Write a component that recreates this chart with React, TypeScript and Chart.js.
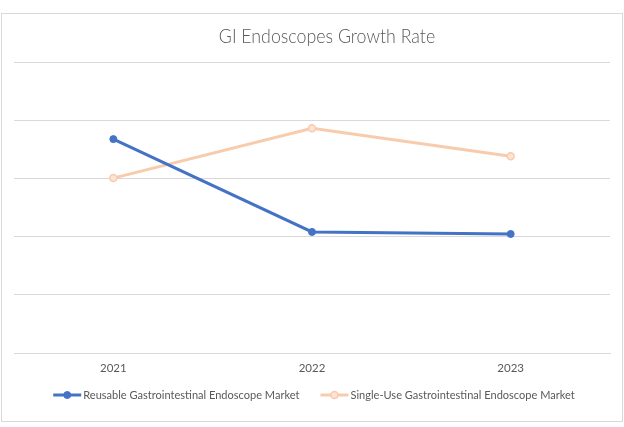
import { useEffect, useRef } from "react";
import { Chart, registerables } from "chart.js";

Chart.register(...registerables);

const chartTitle = "GI Endoscopes Growth Rate";
const categories = ["2021", "2022", "2023"];
const seriesNames = [
  "Reusable Gastrointestinal Endoscope Market",
  "Single-Use Gastrointestinal Endoscope Market",
];
const reusableValues = [7.35, 4.16, 4.09];
const singleUseValues = [6.01, 7.72, 6.76];
const yMin = 0;
const yMax = 10;
const yStep = 2;

const FONT = "Lato, 'Liberation Sans', sans-serif";
const TEXT_COLOR = "#595959";
const GRID_COLOR = "#d9d9d9";
const BLUE = "#4472C4";
const ORANGE = "#F8CBAD";
const ORANGE_FILL = "#FCE4D6";

const framePlugin = {
  id: "frame",
  beforeDraw(chart: any) {
    const ctx = chart.ctx;
    ctx.save();
    ctx.fillStyle = "#ffffff";
    ctx.fillRect(0, 0, chart.width, chart.height);
    ctx.strokeStyle = GRID_COLOR;
    ctx.lineWidth = 1;
    ctx.strokeRect(1.5, 13.5, 621, 408);
    ctx.restore();
  },
  afterDraw(chart: any) {
    const ctx = chart.ctx;
    ctx.save();
    // title
    ctx.fillStyle = TEXT_COLOR;
    ctx.font = `300 19px ${FONT}`;
    ctx.textAlign = "center";
    ctx.textBaseline = "middle";
    ctx.save();
    ctx.translate(327, 37);
    ctx.scale(0.935, 1);
    ctx.fillText(chartTitle, 0, 0);
    ctx.restore();

    // legend
    const sx = 0.92;
    ctx.font = `12px ${FONT}`;
    ctx.textAlign = "left";
    const lineLen = 28;
    const textGap = 2;
    const itemGap = 21;
    const ds = chart.data.datasets;
    const widths = ds.map((d: any) => lineLen + textGap + ctx.measureText(d.label).width * sx);
    const total = widths.reduce((a: number, b: number) => a + b, 0) + itemGap * (ds.length - 1);
    let x = 314 - total / 2;
    const y = 395;
    ds.forEach((d: any, i: number) => {
      ctx.strokeStyle = d.borderColor;
      ctx.lineWidth = 3;
      ctx.beginPath();
      ctx.moveTo(x, y);
      ctx.lineTo(x + lineLen, y);
      ctx.stroke();
      ctx.beginPath();
      ctx.arc(x + lineLen / 2, y, d.pointRadius, 0, Math.PI * 2);
      ctx.fillStyle = d.pointBackgroundColor;
      ctx.fill();
      ctx.lineWidth = d.pointBorderWidth;
      ctx.strokeStyle = d.pointBorderColor;
      ctx.stroke();
      ctx.fillStyle = TEXT_COLOR;
      ctx.save();
      ctx.translate(x + lineLen + textGap, y);
      ctx.scale(sx, 1);
      ctx.fillText(d.label, 0, 0);
      ctx.restore();
      x += widths[i] + itemGap;
    });
    ctx.restore();
  },
};

export default function App() {
  const ref = useRef<HTMLCanvasElement | null>(null);
  useEffect(() => {
    document.body.style.margin = "0";
    if (!ref.current) return;
    const chart = new Chart(ref.current, {
      type: "line",
      data: {
        labels: categories,
        datasets: [
          {
            label: seriesNames[0],
            data: reusableValues,
            borderColor: BLUE,
            backgroundColor: BLUE,
            borderWidth: 3,
            pointRadius: 3.5,
            pointBackgroundColor: BLUE,
            pointBorderColor: BLUE,
            pointBorderWidth: 1,
            tension: 0,
          },
          {
            label: seriesNames[1],
            data: singleUseValues,
            borderColor: ORANGE,
            backgroundColor: ORANGE,
            borderWidth: 3,
            pointRadius: 3.5,
            pointBackgroundColor: ORANGE_FILL,
            pointBorderColor: ORANGE,
            pointBorderWidth: 1.5,
            tension: 0,
          },
        ],
      },
      options: {
        responsive: false,
        animation: false,
        devicePixelRatio: 1,
        layout: { padding: { left: 14, right: 14, top: 62, bottom: 44 } },
        plugins: {
          legend: { display: false },
          title: { display: false },
          tooltip: { enabled: false },
        },
        scales: {
          x: {
            offset: true,
            grid: { display: false, drawTicks: false },
            border: { display: true, color: GRID_COLOR, width: 1 },
            ticks: { color: TEXT_COLOR, font: { family: FONT, size: 11.5 }, padding: 8 },
            afterFit(scale: any) {
              scale.height = 30;
            },
          },
          y: {
            min: yMin,
            max: yMax,
            ticks: { display: false, stepSize: yStep },
            grid: { color: GRID_COLOR, lineWidth: 1, drawTicks: false },
            border: { display: false },
            afterFit(scale: any) {
              scale.width = 0;
            },
          },
        },
      },
      plugins: [framePlugin],
    });
    return () => chart.destroy();
  }, []);
  return <canvas ref={ref} width={624} height={427} style={{ display: "block" }} />;
}
